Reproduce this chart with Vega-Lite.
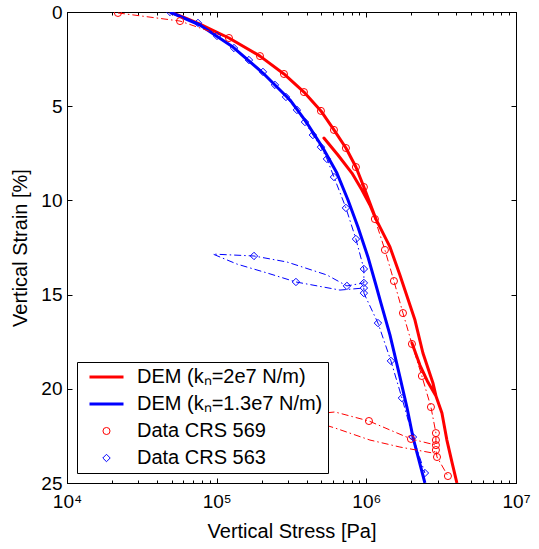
{
  "$schema": "https://vega.github.io/schema/vega-lite/v6.json",
  "width": 449,
  "height": 471,
  "autosize": {"type": "none"},
  "padding": {"left": 67, "top": 12, "right": 23, "bottom": 66},
  "background": "white",
  "config": {
    "font": "Liberation Sans",
    "view": {"stroke": "black", "strokeWidth": 1},
    "axis": {"grid": false, "domainColor": "black", "tickColor": "black", "labelColor": "black", "titleColor": "black", "titleFontWeight": "normal", "labelFont": "Liberation Sans", "titleFont": "Liberation Sans"},
    "legend": {
      "orient": "bottom-left", "offset": 10, "padding": 5, "fillColor": "white", "strokeColor": "black",
      "labelFontSize": 20, "labelFont": "Liberation Sans", "labelColor": "black", "clipHeight": 20, "rowPadding": 7,
      "labelOffset": 12, "symbolOffset": 6, "labelLimit": 400, "title": null, "cornerRadius": 0
    }
  },
  "datasets": {
    "lines": [
      {"s":"a","i":1,"x":48800,"y":0},{"s":"a","i":2,"x":61000,"y":0.3},{"s":"a","i":3,"x":76000,"y":0.62},{"s":"a","i":4,"x":120800,"y":1.38},{"s":"a","i":5,"x":194700,"y":2.34},{"s":"a","i":6,"x":281600,"y":3.29},{"s":"a","i":7,"x":383000,"y":4.25},{"s":"a","i":8,"x":497400,"y":5.25},{"s":"a","i":9,"x":607700,"y":6.26},{"s":"a","i":10,"x":730600,"y":7.22},{"s":"a","i":11,"x":852000,"y":8.23},{"s":"a","i":12,"x":963000,"y":9.29},{"s":"a","i":13,"x":1159000,"y":10.99},{"s":"a","i":14,"x":1057000,"y":10.24},{"s":"a","i":15,"x":935000,"y":9.45},{"s":"a","i":16,"x":801000,"y":8.55},{"s":"a","i":17,"x":646000,"y":7.59},{"s":"a","i":18,"x":520700,"y":6.69},{"s":"a","i":19,"x":646000,"y":7.59},{"s":"a","i":20,"x":801000,"y":8.55},{"s":"a","i":21,"x":935000,"y":9.45},{"s":"a","i":22,"x":1057000,"y":10.24},{"s":"a","i":23,"x":1159000,"y":10.99},{"s":"a","i":24,"x":1438000,"y":12.47},{"s":"a","i":25,"x":1676000,"y":13.96},{"s":"a","i":26,"x":2113000,"y":16.35},{"s":"a","i":27,"x":2388000,"y":18.1},{"s":"a","i":28,"x":2786000,"y":19.69},{"s":"a","i":29,"x":2918000,"y":20.38},{"s":"a","i":30,"x":2577000,"y":19.64},{"s":"a","i":31,"x":2280000,"y":18.74},{"s":"a","i":32,"x":2017000,"y":17.57},{"s":"a","i":33,"x":2280000,"y":18.74},{"s":"a","i":34,"x":2577000,"y":19.64},{"s":"a","i":35,"x":2918000,"y":20.38},{"s":"a","i":36,"x":3199000,"y":21.28},{"s":"a","i":37,"x":3453000,"y":22.72},{"s":"a","i":38,"x":3733000,"y":23.89},{"s":"a","i":39,"x":4029000,"y":25.0},
      {"s":"b","i":1,"x":48800,"y":0},{"s":"b","i":2,"x":77300,"y":0.69},{"s":"b","i":3,"x":128500,"y":1.86},{"s":"b","i":4,"x":203800,"y":3.24},{"s":"b","i":5,"x":309000,"y":4.67},{"s":"b","i":6,"x":401000,"y":5.89},{"s":"b","i":7,"x":513000,"y":7.22},{"s":"b","i":8,"x":636000,"y":8.55},{"s":"b","i":9,"x":754000,"y":9.98},{"s":"b","i":10,"x":879000,"y":11.41},{"s":"b","i":11,"x":1025000,"y":13.0},{"s":"b","i":12,"x":1159000,"y":14.49},{"s":"b","i":13,"x":1252000,"y":15.45},{"s":"b","i":14,"x":1438000,"y":17.14},{"s":"b","i":15,"x":1676000,"y":19.37},{"s":"b","i":16,"x":1866000,"y":20.97},{"s":"b","i":17,"x":2048000,"y":22.56},{"s":"b","i":18,"x":2246000,"y":23.78},{"s":"b","i":19,"x":2462000,"y":25.0},
      {"s":"c","i":1,"x":21900,"y":0.05},{"s":"c","i":2,"x":56900,"y":0.48},{"s":"c","i":3,"x":120800,"y":1.38},{"s":"c","i":4,"x":194700,"y":2.34},{"s":"c","i":5,"x":281600,"y":3.29},{"s":"c","i":6,"x":383000,"y":4.25},{"s":"c","i":7,"x":497400,"y":5.25},{"s":"c","i":8,"x":607700,"y":6.26},{"s":"c","i":9,"x":730600,"y":7.22},{"s":"c","i":10,"x":852000,"y":8.23},{"s":"c","i":11,"x":963000,"y":9.29},{"s":"c","i":12,"x":1141000,"y":10.99},{"s":"c","i":13,"x":1331000,"y":12.63},{"s":"c","i":14,"x":1529000,"y":14.28},{"s":"c","i":15,"x":1757000,"y":15.98},{"s":"c","i":16,"x":2017000,"y":17.62},{"s":"c","i":17,"x":2350000,"y":19.32},{"s":"c","i":18,"x":2702000,"y":20.97},{"s":"c","i":19,"x":2917000,"y":22.35},{"s":"c","i":20,"x":2917000,"y":22.72},{"s":"c","i":21,"x":2917000,"y":22.99},{"s":"c","i":22,"x":1986000,"y":22.66},{"s":"c","i":23,"x":1041000,"y":21.71},{"s":"c","i":24,"x":617000,"y":21.23},{"s":"c","i":25,"x":333400,"y":21.44},{"s":"c","i":26,"x":617000,"y":22.08},{"s":"c","i":27,"x":1057000,"y":22.72},{"s":"c","i":28,"x":1676000,"y":23.09},{"s":"c","i":29,"x":2786000,"y":23.41},{"s":"c","i":30,"x":2917000,"y":23.25},{"s":"c","i":31,"x":2965000,"y":23.62},{"s":"c","i":32,"x":3509000,"y":24.63},
      {"s":"d","i":1,"x":48800,"y":0},{"s":"d","i":2,"x":74990,"y":0.58},{"s":"d","i":3,"x":100500,"y":1.27},{"s":"d","i":4,"x":130500,"y":1.91},{"s":"d","i":5,"x":164300,"y":2.55},{"s":"d","i":6,"x":203800,"y":3.18},{"s":"d","i":7,"x":245100,"y":3.87},{"s":"d","i":8,"x":290400,"y":4.51},{"s":"d","i":9,"x":343800,"y":5.2},{"s":"d","i":10,"x":389000,"y":5.84},{"s":"d","i":11,"x":439500,"y":6.53},{"s":"d","i":12,"x":497400,"y":7.17},{"s":"d","i":13,"x":545700,"y":7.8},{"s":"d","i":14,"x":607700,"y":8.76},{"s":"d","i":15,"x":730600,"y":10.4},{"s":"d","i":16,"x":852000,"y":12.05},{"s":"d","i":17,"x":963000,"y":13.64},{"s":"d","i":18,"x":963000,"y":14.38},{"s":"d","i":19,"x":741800,"y":14.54},{"s":"d","i":20,"x":545700,"y":13.96},{"s":"d","i":21,"x":295100,"y":13.27},{"s":"d","i":22,"x":177500,"y":12.95},{"s":"d","i":23,"x":94480,"y":12.85},{"s":"d","i":24,"x":136700,"y":13.38},{"s":"d","i":25,"x":216800,"y":13.85},{"s":"d","i":26,"x":338600,"y":14.33},{"s":"d","i":27,"x":666400,"y":14.76},{"s":"d","i":28,"x":963000,"y":14.65},{"s":"d","i":29,"x":963000,"y":14.92},{"s":"d","i":30,"x":1196000,"y":16.51},{"s":"d","i":31,"x":1460000,"y":18.52},{"s":"d","i":32,"x":1729000,"y":20.49},{"s":"d","i":33,"x":2048000,"y":22.56},{"s":"d","i":34,"x":2462000,"y":24.47}
    ],
    "markers": [
      {"s":"c","x":21900,"y":0.05},{"s":"c","x":56900,"y":0.48},{"s":"c","x":120800,"y":1.38},{"s":"c","x":194700,"y":2.34},{"s":"c","x":281600,"y":3.29},{"s":"c","x":383000,"y":4.25},{"s":"c","x":497400,"y":5.25},{"s":"c","x":607700,"y":6.26},{"s":"c","x":730600,"y":7.22},{"s":"c","x":852000,"y":8.23},{"s":"c","x":963000,"y":9.29},{"s":"c","x":1141000,"y":10.99},{"s":"c","x":1331000,"y":12.63},{"s":"c","x":1529000,"y":14.28},{"s":"c","x":1757000,"y":15.98},{"s":"c","x":2017000,"y":17.62},{"s":"c","x":2350000,"y":19.32},{"s":"c","x":2702000,"y":20.97},{"s":"c","x":2917000,"y":22.35},{"s":"c","x":2917000,"y":22.72},{"s":"c","x":2917000,"y":22.99},{"s":"c","x":1986000,"y":22.66},{"s":"c","x":1041000,"y":21.71},{"s":"c","x":2917000,"y":23.25},{"s":"c","x":2965000,"y":23.62},{"s":"c","x":3509000,"y":24.63},
      {"s":"d","x":48800,"y":0},{"s":"d","x":74990,"y":0.58},{"s":"d","x":100500,"y":1.27},{"s":"d","x":130500,"y":1.91},{"s":"d","x":164300,"y":2.55},{"s":"d","x":203800,"y":3.18},{"s":"d","x":245100,"y":3.87},{"s":"d","x":290400,"y":4.51},{"s":"d","x":343800,"y":5.2},{"s":"d","x":389000,"y":5.84},{"s":"d","x":439500,"y":6.53},{"s":"d","x":497400,"y":7.17},{"s":"d","x":545700,"y":7.8},{"s":"d","x":607700,"y":8.76},{"s":"d","x":730600,"y":10.4},{"s":"d","x":852000,"y":12.05},{"s":"d","x":963000,"y":13.64},{"s":"d","x":963000,"y":14.38},{"s":"d","x":741800,"y":14.54},{"s":"d","x":177500,"y":12.95},{"s":"d","x":338600,"y":14.33},{"s":"d","x":963000,"y":14.65},{"s":"d","x":963000,"y":14.92},{"s":"d","x":1196000,"y":16.51},{"s":"d","x":1460000,"y":18.52},{"s":"d","x":1729000,"y":20.49},{"s":"d","x":2048000,"y":22.56},{"s":"d","x":2462000,"y":24.47}
    ]
  },
  "resolve": {"axis": {"x": "independent", "y": "independent"}},
  "layer": [
    {
      "data": {"name": "lines"},
      "transform": [{"filter": "datum.s == 'a' || datum.s == 'b'"}],
      "mark": {"type": "line", "strokeWidth": 3, "strokeJoin": "round", "clip": true},
      "encoding": {
        "x": {"field": "x", "type": "quantitative",
          "scale": {"type": "log", "domain": [10000, 10000000], "nice": false},
          "axis": {"orient": "bottom", "title": "Vertical Stress [Pa]", "titleFontSize": 20, "titlePadding": 8, "labelFontSize": 19, "labelPadding": 14,
            "values": [10000,20000,30000,40000,50000,60000,70000,80000,90000,100000,200000,300000,400000,500000,600000,700000,800000,900000,1000000,2000000,3000000,4000000,5000000,6000000,7000000,8000000,9000000,10000000],
            "labelExpr": "datum.value == 10000 ? '10⁴' : datum.value == 100000 ? '10⁵' : datum.value == 1000000 ? '10⁶' : datum.value == 10000000 ? '10⁷' : ''",
            "labelOverlap": false, "labelFlush": false,
            "tickSize": {"condition": {"test": "datum.value == 10000 || datum.value == 100000 || datum.value == 1000000 || datum.value == 10000000", "value": -5}, "value": -3}}},
        "y": {"field": "y", "type": "quantitative",
          "scale": {"domain": [0, 25], "reverse": true, "nice": false},
          "axis": {"orient": "left", "title": "Vertical Strain [%]", "titleFontSize": 20, "titlePadding": 10, "labelFontSize": 19, "labelPadding": 10, "tickSize": -5, "values": [0,5,10,15,20,25], "labelFlush": false, "labelOverlap": false}},
        "color": {"field": "s", "type": "nominal",
          "scale": {"domain": ["a","b","c","d"], "range": ["#ff0000","#0000ff","#ff0000","#0000ff"]},
          "legend": {"labelExpr": "datum.label == 'a' ? 'DEM (kₙ=2e7 N/m)' : datum.label == 'b' ? 'DEM (kₙ=1.3e7 N/m)' : datum.label == 'c' ? 'Data CRS 569' : 'Data CRS 563'"}},
        "order": {"field": "i", "type": "quantitative"}
      }
    },
    {
      "data": {"name": "lines"},
      "transform": [{"filter": "datum.s == 'c' || datum.s == 'd'"}],
      "mark": {"type": "line", "strokeWidth": 1, "strokeDash": [7, 3, 1.5, 3], "clip": true},
      "encoding": {
        "x": {"field": "x", "type": "quantitative", "axis": null},
        "y": {"field": "y", "type": "quantitative", "axis": null},
        "color": {"field": "s", "type": "nominal"},
        "order": {"field": "i", "type": "quantitative"}
      }
    },
    {
      "data": {"name": "markers"},
      "mark": {"type": "point", "filled": false, "opacity": 1, "clip": true},
      "encoding": {
        "x": {"field": "x", "type": "quantitative",
          "axis": {"orient": "top", "labels": false, "title": null,
            "values": [10000,20000,30000,40000,50000,60000,70000,80000,90000,100000,200000,300000,400000,500000,600000,700000,800000,900000,1000000,2000000,3000000,4000000,5000000,6000000,7000000,8000000,9000000,10000000],
            "tickSize": {"condition": {"test": "datum.value == 10000 || datum.value == 100000 || datum.value == 1000000 || datum.value == 10000000", "value": -5}, "value": -3}}},
        "y": {"field": "y", "type": "quantitative",
          "axis": {"orient": "right", "labels": false, "title": null, "tickSize": -5, "values": [0,5,10,15,20,25]}},
        "color": {"field": "s", "type": "nominal"},
        "shape": {"field": "s", "type": "nominal", "scale": {"domain": ["a","b","c","d"], "range": ["stroke","stroke","circle","diamond"]}},
        "size": {"field": "s", "type": "nominal", "scale": {"type": "ordinal", "domain": ["a","b","c","d"], "range": [1156,1156,50,55]}},
        "strokeWidth": {"field": "s", "type": "nominal", "scale": {"type": "ordinal", "domain": ["a","b","c","d"], "range": [3,3,1,1]}}
      }
    }
  ]
}
